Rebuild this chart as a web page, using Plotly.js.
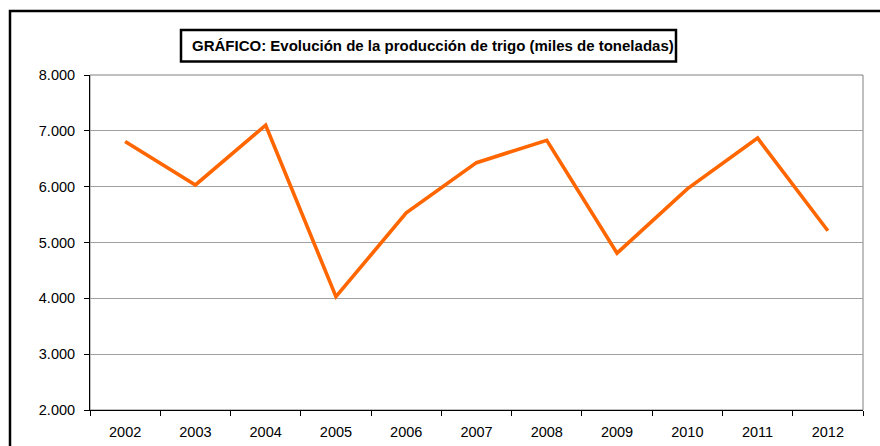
<!DOCTYPE html>
<html>
<head>
<meta charset="utf-8">
<script src="https://cdn.plot.ly/plotly-3.0.1.min.js"></script>
<style>
html,body{margin:0;padding:0;background:#fff;overflow:hidden;}
#chart{width:880px;height:446px;}
</style>
</head>
<body>
<div id="chart"></div>
<script>
const years = ['2002','2003','2004','2005','2006','2007','2008','2009','2010','2011','2012'];
const production = [6810, 6030, 7100, 4030, 5530, 6430, 6830, 4810, 5960, 6870, 5210];
const yTicks = [2000, 3000, 4000, 5000, 6000, 7000, 8000];
const titleText = 'GRÁFICO: Evolución de la producción de trigo (miles de toneladas)';

const W = 880, H = 446;
const m = {l: 90, r: 17, t: 75, b: 36};
const pw = W - m.l - m.r, ph = H - m.t - m.b;
const px = x => (x - m.l) / pw;
const py = y => (H - m.b - y) / ph;

const trace = {
  x: years,
  y: production,
  type: 'scatter',
  mode: 'lines',
  line: {color: '#FF6600', width: 3.6},
  hoverinfo: 'x+y'
};

const layout = {
  width: W, height: H,
  margin: m,
  paper_bgcolor: '#ffffff',
  plot_bgcolor: '#ffffff',
  separators: ',.',
  showlegend: false,
  font: {family: '"Liberation Sans", Arial, sans-serif', color: '#000', size: 14.5},
  xaxis: {
    type: 'category',
    range: [-0.5, years.length - 0.5],
    showgrid: false,
    showline: true, linecolor: '#000', linewidth: 1,
    ticks: 'outside', ticklen: 5, tickcolor: '#000', tickwidth: 1,
    tickson: 'boundaries',
    tickfont: {size: 14.5},
    ticklabelstandoff: 9,
    zeroline: false,
    fixedrange: true
  },
  yaxis: {
    range: [2000, 8000],
    tickvals: yTicks,
    tickformat: ',d',
    showgrid: true, gridcolor: '#a0a0a0', gridwidth: 1,
    showline: true, linecolor: '#000', linewidth: 1,
    ticks: 'outside', ticklen: 5, tickcolor: '#000', tickwidth: 1,
    tickfont: {size: 14.5},
    ticklabelstandoff: 6,
    zeroline: false,
    fixedrange: true
  },
  shapes: [
    {type: 'rect', xref: 'paper', yref: 'paper', x0: 0, x1: 1, y0: 0, y1: 1,
     line: {color: '#808080', width: 1}, layer: 'below'},
    {type: 'rect', xref: 'paper', yref: 'paper',
     x0: px(10), x1: px(W + 20), y0: py(H + 20), y1: py(11),
     line: {color: '#000', width: 2.5}},
    {type: 'rect', xref: 'paper', yref: 'paper',
     x0: px(181), x1: px(676), y0: py(61.5), y1: py(30),
     line: {color: '#000', width: 2.5}, fillcolor: '#fff'}
  ],
  annotations: [
    {text: '<b>' + titleText + '</b>', xref: 'paper', yref: 'paper',
     x: px(433), y: py(45.5), xanchor: 'center', yanchor: 'middle',
     showarrow: false, font: {size: 15, color: '#000'}}
  ]
};

Plotly.newPlot('chart', [trace], layout, {displayModeBar: false, staticPlot: true});
</script>
</body>
</html>
